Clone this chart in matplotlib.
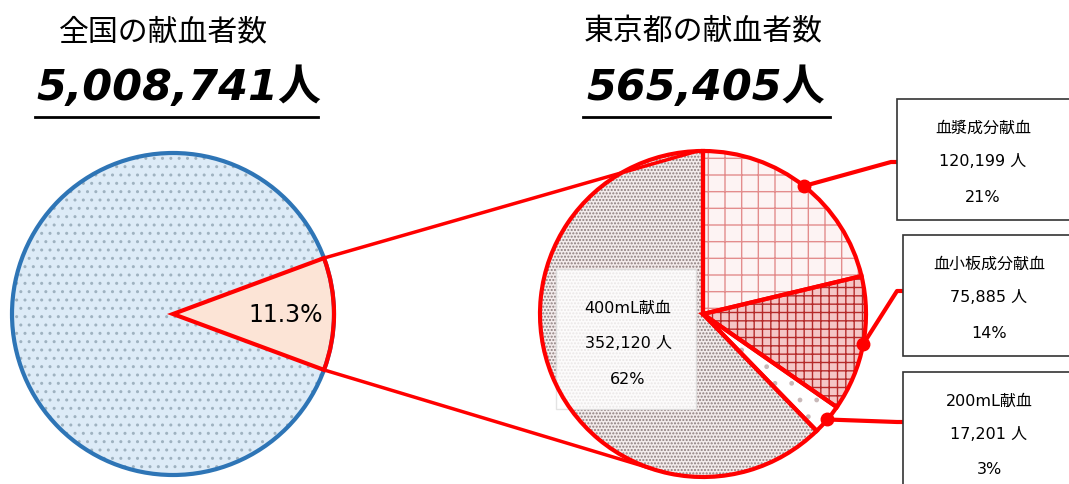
import matplotlib.pyplot as plt
from matplotlib.patches import Rectangle, Circle
import numpy as np

plt.rcParams['font.family'] = ['DejaVu Sans', 'Noto Sans CJK JP']

# data
national_total = 5008741
tokyo_total = 565405
tokyo_share = tokyo_total / national_total * 100

kinds = ['血漿成分献血', '血小板成分献血', '200mL献血', '400mL献血']
counts = [120199, 75885, 17201, 352120]
pcts = [21, 14, 3, 62]

W, H = 1069, 485
fig = plt.figure(figsize=(W / 100, H / 100), dpi=100)
ax = fig.add_axes([0, 0, 1, 1])


def Y(y):
    return H - y


# ---------------- left pie (national) ----------------
lc = (173, Y(315))
lr = 161
left_vals = [tokyo_total, national_total - tokyo_total]
half = 360 * tokyo_total / national_total / 2

w_fill, _ = ax.pie(left_vals, center=lc, radius=lr, startangle=half,
                   counterclock=False, frame=True,
                   colors=['#fce4d6', '#ddebf7'],
                   wedgeprops=dict(linewidth=0))
w_hatch, _ = ax.pie(left_vals, center=lc, radius=lr, startangle=half,
                    counterclock=False, frame=True,
                    colors=['none', 'none'],
                    wedgeprops=dict(linewidth=0))
w_hatch[1].set_hatch('..')
w_hatch[1].set_edgecolor('#9fb2c0')
w_hatch[0].set_visible(False)
ax.add_patch(Circle(lc, lr, fill=False, edgecolor='#2e75b6', linewidth=3, zorder=3))
w_line, _ = ax.pie(left_vals, center=lc, radius=lr, startangle=half,
                   counterclock=False, frame=True,
                   colors=['none', 'none'],
                   wedgeprops=dict(linewidth=3, edgecolor='red'))
w_line[1].set_visible(False)
for w in w_line:
    w.set_zorder(4)
ax.text(286, Y(315), f'{tokyo_share:.1f}%', fontsize=17, ha='center', va='center', zorder=5)

# ---------------- right pie (Tokyo) ----------------
rc = (703, Y(315))
rr = 163
face = ['#fdf3f3', '#f5c6c6', '#ffffff', '#f3ebeb']
hatches = ['+', '++', '.', '.....']
hcol = ['#e38c8c', '#b52a2a', '#c8b8b8', '#8c7c7c']

r_fill, _ = ax.pie(counts, center=rc, radius=rr, startangle=90,
                   counterclock=False, frame=True, colors=face,
                   wedgeprops=dict(linewidth=0))
r_hatch, _ = ax.pie(counts, center=rc, radius=rr, startangle=90,
                    counterclock=False, frame=True,
                    colors=['none'] * 4, wedgeprops=dict(linewidth=0))
for w, h, c in zip(r_hatch, hatches, hcol):
    w.set_hatch(h)
    w.set_edgecolor(c)
r_line, _ = ax.pie(counts, center=rc, radius=rr, startangle=90,
                   counterclock=False, frame=True,
                   colors=['none'] * 4,
                   wedgeprops=dict(linewidth=3, edgecolor='red'))
for w in r_line:
    w.set_zorder(4)

# label box for 400mL
ax.add_patch(Rectangle((556, Y(410)), 140, 140, facecolor='white', alpha=0.82,
                       edgecolor='#dddddd', linewidth=1, zorder=3))
ax.text(628, Y(308), kinds[3], fontsize=11.5, ha='center', va='center', zorder=5)
ax.text(628, Y(344), f'{counts[3]:,} 人', fontsize=11.5, ha='center', va='center', zorder=5)
ax.text(628, Y(380), f'{pcts[3]}%', fontsize=11.5, ha='center', va='center', zorder=5)

# connecting lines from left wedge to right pie
for ang, tgt in [(half, 92), (-half, -109)]:
    x0 = lc[0] + lr * np.cos(np.radians(ang))
    y0 = lc[1] + lr * np.sin(np.radians(ang))
    x1 = rc[0] + rr * np.cos(np.radians(tgt))
    y1 = rc[1] + rr * np.sin(np.radians(tgt))
    ax.plot([x0, x1], [y0, y1], color='red', linewidth=2.5, zorder=2)

# callouts
boxes = [(897, 100, 121, 163), (903, 236, 121, 292), (903, 373, 121, 423)]
for i, (bx, by, bh, ly) in enumerate(boxes):
    w = r_line[i]
    mid = np.radians((w.theta1 + w.theta2) / 2)
    px = rc[0] + rr * np.cos(mid)
    py = rc[1] + rr * np.sin(mid)
    ax.plot(px, py, 'o', color='red', markersize=9, zorder=6)
    ax.plot([px, bx - 6, bx], [py, Y(ly), Y(ly)], color='red', linewidth=3, zorder=5)
    ax.add_patch(Rectangle((bx, Y(by + bh)), 175, bh, facecolor='white',
                           edgecolor='#333333', linewidth=1.2, zorder=5))
    cx = bx + 86
    ax.text(cx, Y(by + 28), kinds[i], fontsize=11.5, ha='center', va='center', zorder=6)
    ax.text(cx, Y(by + 62), f'{counts[i]:,} 人', fontsize=11.5, ha='center', va='center', zorder=6)
    ax.text(cx, Y(by + 97), f'{pcts[i]}%', fontsize=11.5, ha='center', va='center', zorder=6)

# titles
ax.text(163, Y(32), '全国の献血者数', fontsize=21.5, ha='center', va='center')
ax.text(179, Y(88), f'{national_total:,}人', fontsize=31, fontweight='bold',
        fontstyle='italic', ha='center', va='center')
ax.plot([35, 318], [Y(118), Y(118)], color='black', linewidth=2)
ax.text(703, Y(32), '東京都の献血者数', fontsize=21.5, ha='center', va='center')
ax.text(706, Y(88), f'{tokyo_total:,}人', fontsize=31, fontweight='bold',
        fontstyle='italic', ha='center', va='center')
ax.plot([583, 830], [Y(118), Y(118)], color='black', linewidth=2)

ax.set_xlim(0, W)
ax.set_ylim(0, H)
ax.set_aspect('equal')
ax.axis('off')
fig.savefig('out.png', dpi=100)
